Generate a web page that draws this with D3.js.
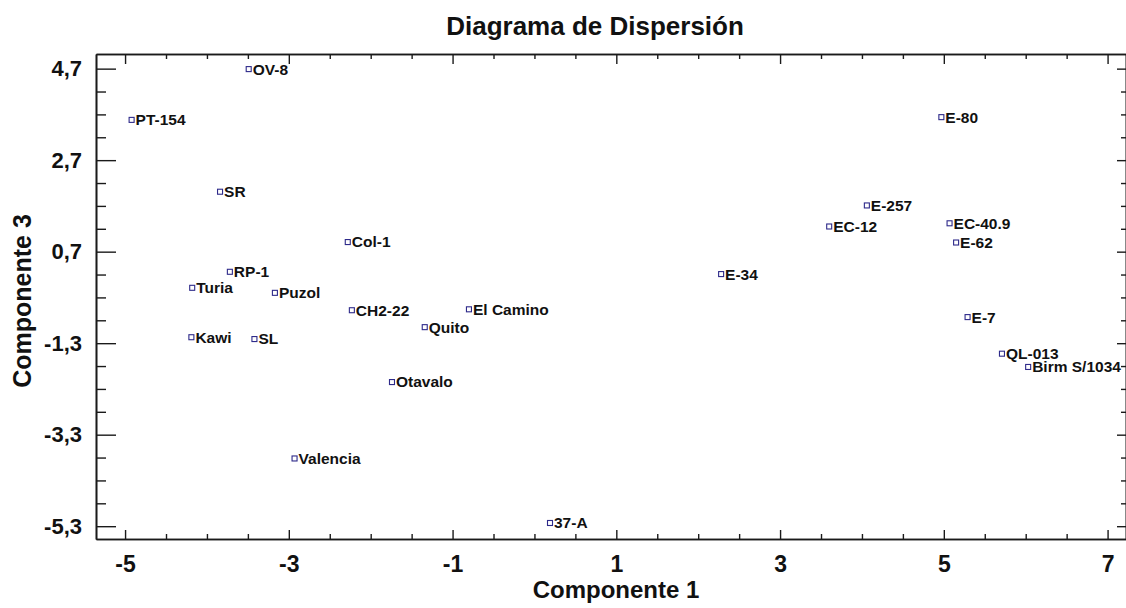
<!DOCTYPE html>
<html>
<head>
<meta charset="utf-8">
<script src="https://cdn.jsdelivr.net/npm/d3@7"></script>
<style>
  html, body { margin: 0; padding: 0; background: #fff; }
  svg { display: block; }
  text { font-family: "Liberation Sans", Arial, sans-serif; font-weight: bold; fill: #111; }
</style>
</head>
<body>
<svg id="chart" width="1126" height="608"></svg>
<script>
// ---- data ----
const cultivars = ["OV-8","PT-154","SR","Col-1","RP-1","Turia","Puzol","CH2-22","El Camino","Quito",
  "Kawi","SL","Otavalo","Valencia","37-A","E-34","E-80","E-257","EC-12","EC-40.9","E-62","E-7","QL-013","Birm S/1034"];
const componente1 = [-3.49,-4.92,-3.84,-2.28,-3.72,-4.18,-3.17,-2.23,-0.80,-1.34,
  -4.19,-3.42,-1.74,-2.93,0.19,2.28,4.97,4.06,3.60,5.07,5.15,5.29,5.71,6.03];
const componente3 = [4.69,3.58,2.01,0.91,0.26,-0.09,-0.20,-0.58,-0.56,-0.95,
  -1.17,-1.21,-2.15,-3.82,-5.23,0.21,3.64,1.71,1.25,1.32,0.90,-0.73,-1.53,-1.82];

const xTickValues = [-5,-3,-1,1,3,5,7];
const xTickLabels = ["-5","-3","-1","1","3","5","7"];
const xMinorValues = [-4.5,-4,-3.5,-2.5,-2,-1.5,-0.5,0,0.5,1.5,2,2.5,3.5,4,4.5,5.5,6,6.5];
const yTickValues = [4.7,2.7,0.7,-1.3,-3.3,-5.3];
const yTickLabels = ["4,7","2,7","0,7","-1,3","-3,3","-5,3"];
const yMinorValues = [4.2,3.7,3.2,2.2,1.7,1.2,0.2,-0.3,-0.8,-1.8,-2.3,-2.8,-3.8,-4.3,-4.8];

const titleText = "Diagrama de Dispersión";
const xLabel = "Componente 1";
const yLabel = "Componente 3";

// ---- layout ----
const L = 96, R = 1126, T = 54, B = 539;
const svg = d3.select("#chart");
const x = d3.scaleLinear().domain([-5.355, 7.225]).range([L, R]);
const y = d3.scaleLinear().domain([-5.58, 5.02]).range([B, T]);

const axisColor = "#1a1a1a";
function styleAxis(g) {
  g.selectAll("path.domain").attr("stroke", axisColor).attr("stroke-width", 1.6);
  g.selectAll(".tick line").attr("stroke", axisColor).attr("stroke-width", 1.4);
  g.selectAll(".tick text").attr("fill", "#111").attr("font-family", "'Liberation Sans', Arial, sans-serif").attr("font-weight", "bold");
}

// minor ticks
svg.append("g").attr("transform", `translate(0,${B})`)
  .call(d3.axisBottom(x).tickValues(xMinorValues).tickSizeInner(-5).tickSizeOuter(0).tickFormat(""))
  .call(styleAxis);
svg.append("g").attr("transform", `translate(0,${T})`)
  .call(d3.axisTop(x).tickValues(xMinorValues).tickSizeInner(-5).tickSizeOuter(0).tickFormat(""))
  .call(styleAxis);
svg.append("g").attr("transform", `translate(${L},0)`)
  .call(d3.axisLeft(y).tickValues(yMinorValues).tickSizeInner(-10).tickSizeOuter(0).tickFormat(""))
  .call(styleAxis);
svg.append("g").attr("transform", `translate(${R},0)`)
  .call(d3.axisRight(y).tickValues(yMinorValues).tickSizeInner(-5).tickSizeOuter(0).tickFormat(""))
  .call(styleAxis);

// major ticks
const gx = svg.append("g").attr("transform", `translate(0,${B})`)
  .call(d3.axisBottom(x).tickValues(xTickValues).tickSizeInner(-9).tickSizeOuter(0).tickPadding(17)
    .tickFormat((d, i) => xTickLabels[i]))
  .call(styleAxis);
gx.selectAll(".tick text").attr("font-size", 23);

svg.append("g").attr("transform", `translate(0,${T})`)
  .call(d3.axisTop(x).tickValues(xTickValues).tickSizeInner(-10).tickSizeOuter(0).tickFormat(""))
  .call(styleAxis);

const gy = svg.append("g").attr("transform", `translate(${L},0)`)
  .call(d3.axisLeft(y).tickValues(yTickValues).tickSizeInner(-20).tickSizeOuter(0).tickPadding(14)
    .tickFormat((d, i) => yTickLabels[i]))
  .call(styleAxis);
gy.selectAll(".tick text").attr("font-size", 22);

svg.append("g").attr("transform", `translate(${R},0)`)
  .call(d3.axisRight(y).tickValues(yTickValues).tickSizeInner(-9).tickSizeOuter(0).tickFormat(""))
  .call(styleAxis);

// ---- points ----
const pts = cultivars.map((n, i) => ({ name: n, c1: componente1[i], c3: componente3[i] }));
const pg = svg.append("g");
const node = pg.selectAll("g.pt").data(pts).join("g")
  .attr("class", "pt")
  .attr("transform", d => `translate(${x(d.c1)},${y(d.c3)})`);
node.append("rect")
  .attr("x", -2.5).attr("y", -2.5).attr("width", 5).attr("height", 5)
  .attr("fill", "#fff").attr("stroke", "#2e2a8a").attr("stroke-width", 1.1);
node.append("text")
  .attr("x", 4).attr("dy", "0.35em")
  .attr("font-size", 15.5)
  .text(d => d.name);

// ---- titles ----
svg.append("text").attr("x", 595).attr("y", 35).attr("text-anchor", "middle")
  .attr("font-size", 26).text(titleText);
svg.append("text").attr("x", 616).attr("y", 598).attr("text-anchor", "middle")
  .attr("font-size", 24).text(xLabel);
svg.append("text").attr("transform", "translate(31,301) rotate(-90)").attr("text-anchor", "middle")
  .attr("font-size", 25).text(yLabel);
</script>
</body>
</html>
